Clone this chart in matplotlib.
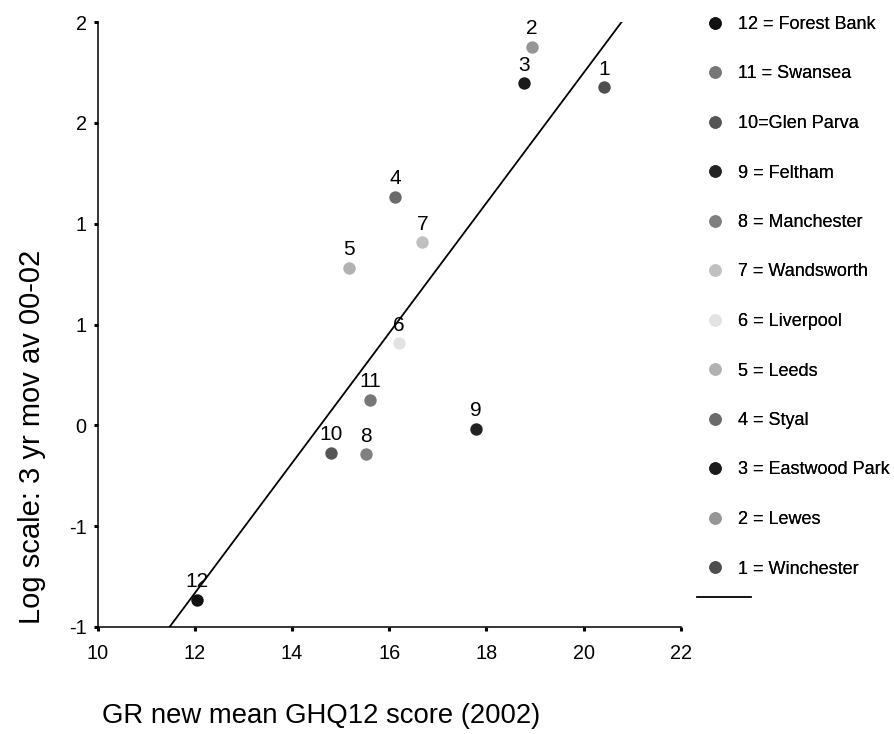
import matplotlib
matplotlib.use("Agg")
import matplotlib.pyplot as plt
from matplotlib.lines import Line2D
import numpy as np

plt.rcParams['font.family'] = ['Liberation Sans', 'DejaVu Sans']

# ---- data ----
ids = [1, 2, 3, 4, 5, 6, 7, 8, 9, 10, 11, 12]
names = ["1 = Winchester", "2 = Lewes", "3 = Eastwood Park", "4 = Styal", "5 = Leeds",
         "6 = Liverpool", "7 = Wandsworth", "8 = Manchester", "9 = Feltham",
         "10=Glen Parva", "11 = Swansea", "12 = Forest Bank"]
ghq = [20.42, 18.93, 18.77, 16.12, 15.17, 16.20, 16.68, 15.53, 17.78, 14.80, 15.60, 12.04]
lograte = [1.676, 1.877, 1.696, 1.133, 0.781, 0.408, 0.908, -0.144, -0.018, -0.137, 0.128, -0.864]
colors = ["#4f4f4f", "#969696", "#1a1a1a", "#6b6b6b", "#b2b2b2", "#e3e3e3",
          "#c0c0c0", "#808080", "#222222", "#555555", "#777777", "#111111"]
xticks = [10, 12, 14, 16, 18, 20, 22]
yticks = [-1.0, -0.5, 0.0, 0.5, 1.0, 1.5, 2.0]
yticklabels = ["-1", "-1", "0", "1", "1", "2", "2"]

fig = plt.figure(figsize=(8.95, 7.34), dpi=100)
ax = fig.add_axes([97.7/895, 1-627/734, (680.8-97.7)/895, (627-22)/734])

for i in range(len(ids)):
    ax.scatter(ghq[i], lograte[i], s=80, color=colors[i], zorder=3, linewidths=0)
    ax.annotate(str(ids[i]), (ghq[i], lograte[i]), xytext=(0, 9), textcoords='offset points',
                ha='center', va='baseline', fontsize=15, zorder=4)

# trend line (least squares)
slope, intercept = np.polyfit(ghq, lograte, 1)
xl = np.array([10, 22])
ax.plot(xl, slope*xl + intercept, color='black', lw=1.3, zorder=2)

ax.set_xlim(10, 22)
ax.set_ylim(-1, 2)
ax.set_xticks(xticks)
ax.set_xticklabels([str(v) for v in xticks])
ax.set_yticks(yticks)
ax.set_yticklabels(yticklabels)
for s in ['top', 'right']:
    ax.spines[s].set_visible(False)
for s in ['left', 'bottom']:
    ax.spines[s].set_linewidth(1.1)
ax.tick_params(axis='both', direction='out', length=3, width=2.2, labelsize=14.3)
ax.tick_params(axis='x', pad=9)
ax.tick_params(axis='y', pad=5)

fig.text(32/895, 1-437/734, "Log scale: 3 yr mov av 00-02", rotation=90,
         ha='center', va='center', fontsize=21)
fig.text(321/895, 1-716/734, "GR new mean GHQ12 score (2002)", ha='center', va='center',
         fontsize=19.8)

# legend
order = list(range(11, -1, -1))
handles = [Line2D([], [], marker='o', linestyle='none', markersize=9,
                  markerfacecolor=colors[i], markeredgewidth=0) for i in order]
labels = [names[i] for i in order]
leg = fig.legend(handles, labels, loc='upper left', bbox_to_anchor=(706/895, 1-16/734),
                 frameon=False, fontsize=13, handlelength=1.0, handletextpad=0.8,
                 labelspacing=1.80, borderpad=0, borderaxespad=0)
leg2 = fig.legend([Line2D([], [], color='black', lw=1.3)], [''], loc='center left',
                  bbox_to_anchor=(697/895, 1-599/734), frameon=False, fontsize=13,
                  handlelength=3.0, handletextpad=0, borderpad=0, borderaxespad=0)
fig.add_artist(leg)

fig.savefig("out.png", dpi=100)
